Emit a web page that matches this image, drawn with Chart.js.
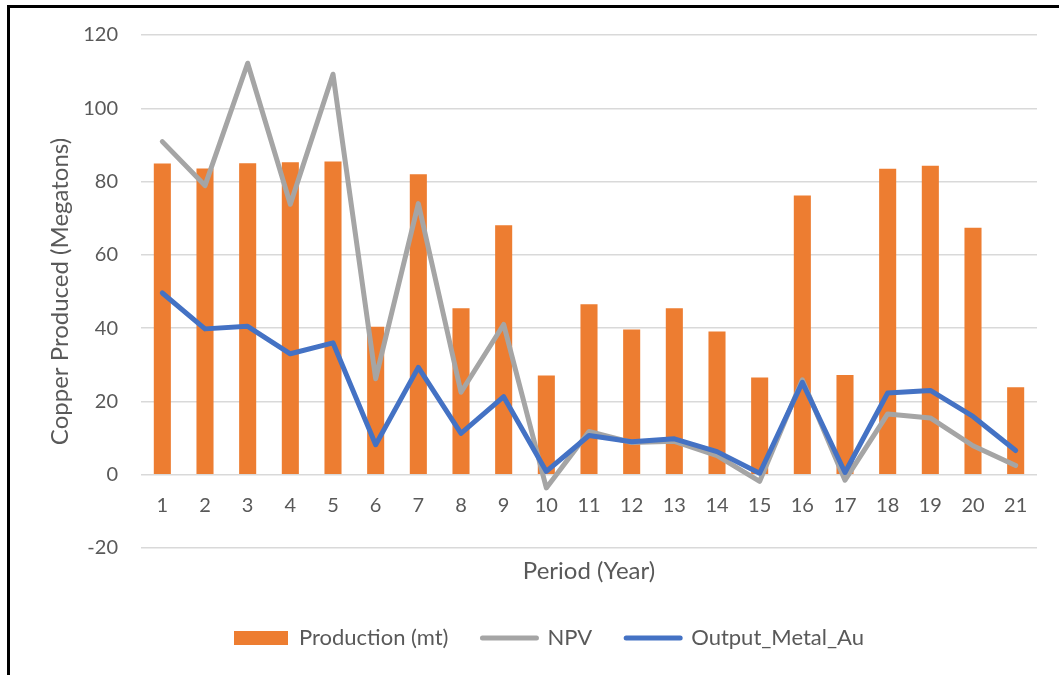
<!DOCTYPE html>
<html>
<head>
<meta charset="utf-8">
<script src="https://cdn.jsdelivr.net/npm/chart.js@4.4.1/dist/chart.umd.min.js"></script>
<style>
  html, body { margin: 0; padding: 0; background: #fff; }
  #wrap { width: 1059px; height: 675px; }
</style>
</head>
<body>
<div id="wrap"><canvas id="chart_copper" width="1059" height="675"></canvas></div>
<script>
// 期間 (年)
const periods = ['1','2','3','4','5','6','7','8','9','10','11','12','13','14','15','16','17','18','19','20','21'];
// 生産量 (mt)
const production = [84.9, 83.6, 85.0, 85.3, 85.5, 40.4, 82.0, 45.4, 68.1, 27.1, 46.5, 39.6, 45.4, 39.1, 26.5, 76.2, 27.2, 83.5, 84.3, 67.4, 23.9];
// NPV
const npv = [90.9, 78.9, 112.3, 73.8, 109.3, 26.2, 74.0, 22.5, 41.0, -3.6, 11.8, 8.8, 9.1, 5.2, -1.8, 25.9, -1.5, 16.6, 15.5, 7.9, 2.5];
// Output_Metal_Au
const outputAu = [49.6, 39.8, 40.5, 33.0, 36.0, 8.2, 29.3, 11.3, 21.3, 0.9, 10.7, 9.0, 9.8, 6.3, 0.4, 25.2, 0.6, 22.3, 23.0, 15.9, 6.6];
// 縦軸の目盛
const yMin = -20, yMax = 120, yStep = 20;

const textColor = '#595959';
const fontName = 'Lato';

// 枠線 (上と左)
const framePlugin = {
  id: 'frame',
  afterDraw(chart) {
    const ctx = chart.ctx;
    ctx.save();
    ctx.fillStyle = '#000';
    ctx.fillRect(7, 5, 1052, 3);
    ctx.fillRect(7, 5, 3, 670);
    ctx.restore();
  }
};

// 凡例の位置を調整
const legendPosPlugin = {
  id: 'legendPos',
  afterLayout(chart) {
    const lg = chart.legend;
    const pad = lg.options.labels.padding;
    lg.left = 234 - pad;
    lg.top = 638 - pad - lg.options.labels.font.size / 2;
  }
};

let chartArea = document.getElementById('chart_copper');
let myChart = new Chart(chartArea, {
  data: {
    labels: periods,
    datasets: [
      {
        type: 'bar',
        label: 'Production (mt)',
        data: production,
        backgroundColor: '#ED7D31',
        barPercentage: 0.4,
        categoryPercentage: 1.0,
        order: 3
      },
      {
        type: 'line',
        label: 'NPV',
        data: npv,
        borderColor: '#A5A5A5',
        backgroundColor: '#A5A5A5',
        borderWidth: 5,
        pointRadius: 0,
        tension: 0,
        borderJoinStyle: 'round',
        borderCapStyle: 'round',
        order: 2
      },
      {
        type: 'line',
        label: 'Output_Metal_Au',
        data: outputAu,
        borderColor: '#4472C4',
        backgroundColor: '#4472C4',
        borderWidth: 5,
        pointRadius: 0,
        tension: 0,
        borderJoinStyle: 'round',
        borderCapStyle: 'round',
        order: 1
      }
    ]
  },
  options: {
    responsive: false,
    animation: false,
    layout: { padding: { top: 35, right: 22, left: 12, bottom: 23 } },
    scales: {
      x: {
        type: 'category',
        position: { y: 0 },
        grid: { display: false, drawTicks: false },
        border: { display: false },
        ticks: { color: textColor, font: { family: fontName, size: 20 }, padding: 19, maxRotation: 0, autoSkip: false }
      },
      x2: {
        type: 'category',
        position: 'bottom',
        labels: periods,
        grid: { display: false, drawTicks: false },
        border: { display: false },
        ticks: { display: false },
        title: {
          display: true,
          text: 'Period (Year)',
          color: textColor,
          font: { family: fontName, size: 24 },
          padding: { top: 0, bottom: 0 }
        },
        afterFit(scale) { scale.height = 38; }
      },
      y: {
        min: yMin,
        max: yMax,
        ticks: { stepSize: yStep, color: textColor, font: { family: fontName, size: 20 }, padding: 23 },
        grid: { color: '#D9D9D9', lineWidth: 1.5, drawTicks: false },
        border: { display: false },
        title: {
          display: true,
          text: 'Copper Produced (Megatons)',
          color: textColor,
          font: { family: fontName, size: 24 },
          padding: { top: 34, bottom: 0 }
        },
        afterFit(scale) { scale.width = 129; }
      }
    },
    plugins: {
      tooltip: { enabled: false },
      legend: {
        position: 'bottom',
        align: 'start',
        labels: {
          color: textColor,
          font: { family: fontName, size: 22 },
          usePointStyle: true,
          pointStyleWidth: 54,
          boxHeight: 14,
          padding: 34,
          sort: (a, b) => a.datasetIndex - b.datasetIndex,
          generateLabels(chart) {
            const items = Chart.defaults.plugins.legend.labels.generateLabels(chart);
            items.forEach(item => {
              const ds = chart.data.datasets[item.datasetIndex];
              if (ds.type === 'bar') {
                item.pointStyle = 'rect';
                item.lineWidth = 0;
              } else {
                item.pointStyle = 'line';
                item.lineWidth = 5;
                item.strokeStyle = ds.borderColor;
                item.lineCap = 'round';
              }
            });
            return items;
          }
        }
      }
    }
  },
  plugins: [framePlugin, legendPosPlugin]
});
</script>
</body>
</html>
